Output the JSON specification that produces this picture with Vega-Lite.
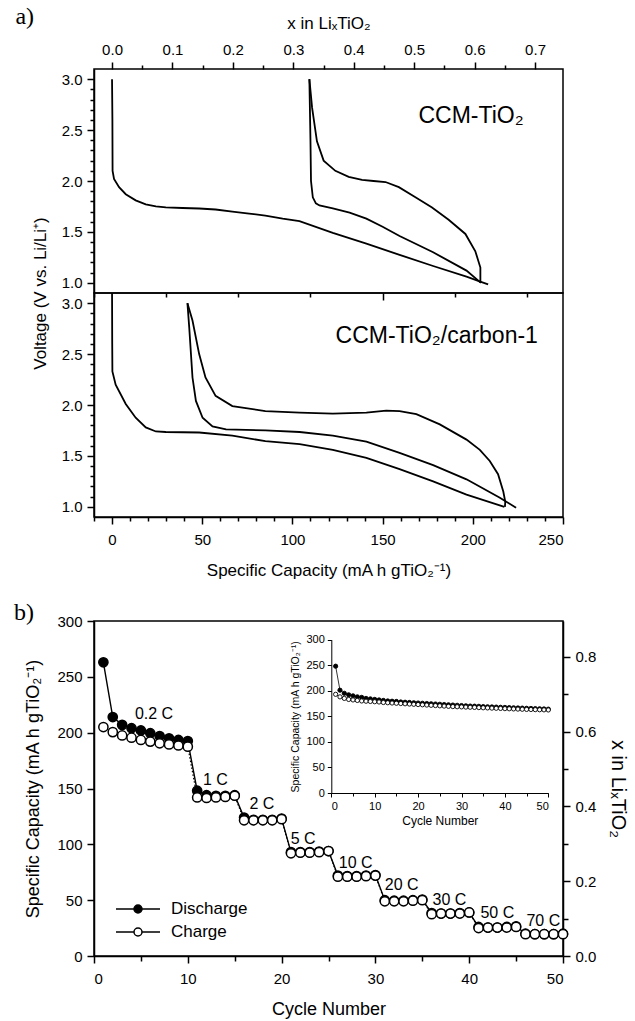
{
  "$schema": "https://vega.github.io/schema/vega-lite/v6.json",
  "padding": {"left": 13, "top": 5, "right": 2, "bottom": 2},
  "config": {
    "font": "Liberation Sans",
    "view": {"stroke": "black", "strokeWidth": 1.5},
    "axis": {"grid": false, "ticks": true, "labelOverlap": false, "domainColor": "black", "domainWidth": 1.5, "tickColor": "black", "tickWidth": 1.5, "labelColor": "black", "titleColor": "black", "labelFontSize": 15, "titleFontSize": 17, "titleFontWeight": "normal", "labelFont": "Liberation Sans", "titleFont": "Liberation Sans", "labelPadding": 5},
    "title": {"font": "Liberation Serif", "fontSize": 24, "fontWeight": "normal", "color": "black"},
    "legend": {"labelFont": "Liberation Sans", "labelFontSize": 17, "labelColor": "black"}
  },
  "resolve": {"scale": {"fill": "independent"}, "legend": {"fill": "independent"}},
  "datasets": {
    "top": [
      {"curve": "d1", "i": 1, "cap": 0, "v": 3.0},
      {"curve": "d1", "i": 2, "cap": 0.2, "v": 2.6},
      {"curve": "d1", "i": 3, "cap": 0.3, "v": 2.1},
      {"curve": "d1", "i": 4, "cap": 1.1, "v": 2.02},
      {"curve": "d1", "i": 5, "cap": 3.9, "v": 1.94},
      {"curve": "d1", "i": 6, "cap": 7.6, "v": 1.87},
      {"curve": "d1", "i": 7, "cap": 13.1, "v": 1.81},
      {"curve": "d1", "i": 8, "cap": 18.7, "v": 1.77},
      {"curve": "d1", "i": 9, "cap": 24.3, "v": 1.75},
      {"curve": "d1", "i": 10, "cap": 29.8, "v": 1.74},
      {"curve": "d1", "i": 11, "cap": 39, "v": 1.735},
      {"curve": "d1", "i": 12, "cap": 48.3, "v": 1.73},
      {"curve": "d1", "i": 13, "cap": 57.4, "v": 1.72},
      {"curve": "d1", "i": 14, "cap": 66.7, "v": 1.70},
      {"curve": "d1", "i": 15, "cap": 76, "v": 1.68},
      {"curve": "d1", "i": 16, "cap": 85, "v": 1.66},
      {"curve": "d1", "i": 17, "cap": 94.6, "v": 1.63},
      {"curve": "d1", "i": 18, "cap": 103.9, "v": 1.605},
      {"curve": "d1", "i": 19, "cap": 122.4, "v": 1.49},
      {"curve": "d1", "i": 20, "cap": 141, "v": 1.385},
      {"curve": "d1", "i": 21, "cap": 159.4, "v": 1.275},
      {"curve": "d1", "i": 22, "cap": 178, "v": 1.165},
      {"curve": "d1", "i": 23, "cap": 196.5, "v": 1.06},
      {"curve": "d1", "i": 24, "cap": 204.5, "v": 1.01},
      {"curve": "d1", "i": 25, "cap": 208.5, "v": 0.985},
      {"curve": "c1", "i": 1, "cap": 204.2, "v": 1.0},
      {"curve": "c1", "i": 2, "cap": 204.2, "v": 1.15},
      {"curve": "c1", "i": 3, "cap": 201.4, "v": 1.31},
      {"curve": "c1", "i": 4, "cap": 195.9, "v": 1.48},
      {"curve": "c1", "i": 5, "cap": 186.6, "v": 1.62},
      {"curve": "c1", "i": 6, "cap": 177.4, "v": 1.74},
      {"curve": "c1", "i": 7, "cap": 168.2, "v": 1.84},
      {"curve": "c1", "i": 8, "cap": 159, "v": 1.94},
      {"curve": "c1", "i": 9, "cap": 151.6, "v": 1.99},
      {"curve": "c1", "i": 10, "cap": 145, "v": 2.0},
      {"curve": "c1", "i": 11, "cap": 138.6, "v": 2.01},
      {"curve": "c1", "i": 12, "cap": 131.2, "v": 2.04},
      {"curve": "c1", "i": 13, "cap": 123.8, "v": 2.1},
      {"curve": "c1", "i": 14, "cap": 117.3, "v": 2.2},
      {"curve": "c1", "i": 15, "cap": 113.6, "v": 2.39},
      {"curve": "c1", "i": 16, "cap": 110.9, "v": 2.72},
      {"curve": "c1", "i": 17, "cap": 109.4, "v": 3.0},
      {"curve": "d2", "i": 1, "cap": 109.4, "v": 3.0},
      {"curve": "d2", "i": 2, "cap": 110, "v": 2.4},
      {"curve": "d2", "i": 3, "cap": 110.3, "v": 2.0},
      {"curve": "d2", "i": 4, "cap": 111.3, "v": 1.84},
      {"curve": "d2", "i": 5, "cap": 113, "v": 1.78},
      {"curve": "d2", "i": 6, "cap": 115, "v": 1.76},
      {"curve": "d2", "i": 7, "cap": 122.4, "v": 1.73},
      {"curve": "d2", "i": 8, "cap": 131.7, "v": 1.69},
      {"curve": "d2", "i": 9, "cap": 141, "v": 1.63},
      {"curve": "d2", "i": 10, "cap": 150, "v": 1.55},
      {"curve": "d2", "i": 11, "cap": 159.4, "v": 1.46},
      {"curve": "d2", "i": 12, "cap": 178, "v": 1.3},
      {"curve": "d2", "i": 13, "cap": 196.5, "v": 1.12},
      {"curve": "d2", "i": 14, "cap": 204.5, "v": 1.0}
    ],
    "bot": [
      {"curve": "d1", "i": 1, "cap": 0, "v": 3.15},
      {"curve": "d1", "i": 2, "cap": 0.1, "v": 2.6},
      {"curve": "d1", "i": 3, "cap": 0.2, "v": 2.33},
      {"curve": "d1", "i": 4, "cap": 2.0, "v": 2.2},
      {"curve": "d1", "i": 5, "cap": 7.6, "v": 2.01},
      {"curve": "d1", "i": 6, "cap": 13.1, "v": 1.875},
      {"curve": "d1", "i": 7, "cap": 18.7, "v": 1.78},
      {"curve": "d1", "i": 8, "cap": 24.3, "v": 1.74},
      {"curve": "d1", "i": 9, "cap": 29.8, "v": 1.735},
      {"curve": "d1", "i": 10, "cap": 48.3, "v": 1.73},
      {"curve": "d1", "i": 11, "cap": 66.7, "v": 1.70},
      {"curve": "d1", "i": 12, "cap": 85, "v": 1.645},
      {"curve": "d1", "i": 13, "cap": 104, "v": 1.615},
      {"curve": "d1", "i": 14, "cap": 122.4, "v": 1.56},
      {"curve": "d1", "i": 15, "cap": 141, "v": 1.48},
      {"curve": "d1", "i": 16, "cap": 159.4, "v": 1.37},
      {"curve": "d1", "i": 17, "cap": 178, "v": 1.25},
      {"curve": "d1", "i": 18, "cap": 196.5, "v": 1.12},
      {"curve": "d1", "i": 19, "cap": 217.5, "v": 1.0},
      {"curve": "c1", "i": 1, "cap": 217.8, "v": 1.0},
      {"curve": "c1", "i": 2, "cap": 218, "v": 1.05},
      {"curve": "c1", "i": 3, "cap": 216.9, "v": 1.15},
      {"curve": "c1", "i": 4, "cap": 214, "v": 1.32},
      {"curve": "c1", "i": 5, "cap": 209.4, "v": 1.45},
      {"curve": "c1", "i": 6, "cap": 203.9, "v": 1.56},
      {"curve": "c1", "i": 7, "cap": 196.5, "v": 1.66},
      {"curve": "c1", "i": 8, "cap": 181.7, "v": 1.81},
      {"curve": "c1", "i": 9, "cap": 168.7, "v": 1.91},
      {"curve": "c1", "i": 10, "cap": 159.4, "v": 1.94},
      {"curve": "c1", "i": 11, "cap": 152, "v": 1.945},
      {"curve": "c1", "i": 12, "cap": 141, "v": 1.925},
      {"curve": "c1", "i": 13, "cap": 122.4, "v": 1.915},
      {"curve": "c1", "i": 14, "cap": 104, "v": 1.925},
      {"curve": "c1", "i": 15, "cap": 85, "v": 1.94},
      {"curve": "c1", "i": 16, "cap": 66.7, "v": 1.99},
      {"curve": "c1", "i": 17, "cap": 57.4, "v": 2.09},
      {"curve": "c1", "i": 18, "cap": 51.8, "v": 2.27},
      {"curve": "c1", "i": 19, "cap": 48.3, "v": 2.5},
      {"curve": "c1", "i": 20, "cap": 44.6, "v": 2.83},
      {"curve": "c1", "i": 21, "cap": 41.8, "v": 3.0},
      {"curve": "d2", "i": 1, "cap": 41.8, "v": 3.0},
      {"curve": "d2", "i": 2, "cap": 42.8, "v": 2.76},
      {"curve": "d2", "i": 3, "cap": 44.6, "v": 2.27},
      {"curve": "d2", "i": 4, "cap": 46.5, "v": 2.04},
      {"curve": "d2", "i": 5, "cap": 50.2, "v": 1.875},
      {"curve": "d2", "i": 6, "cap": 55.7, "v": 1.79},
      {"curve": "d2", "i": 7, "cap": 63.2, "v": 1.76},
      {"curve": "d2", "i": 8, "cap": 85, "v": 1.75},
      {"curve": "d2", "i": 9, "cap": 104, "v": 1.735},
      {"curve": "d2", "i": 10, "cap": 122.4, "v": 1.70},
      {"curve": "d2", "i": 11, "cap": 141, "v": 1.64},
      {"curve": "d2", "i": 12, "cap": 159.4, "v": 1.53},
      {"curve": "d2", "i": 13, "cap": 178, "v": 1.41},
      {"curve": "d2", "i": 14, "cap": 196.5, "v": 1.27},
      {"curve": "d2", "i": 15, "cap": 215, "v": 1.09},
      {"curve": "d2", "i": 16, "cap": 224, "v": 0.99}
    ],
    "rate": [
      {"series": "Discharge", "cycle": 1, "cap": 263}, {"series": "Discharge", "cycle": 2, "cap": 214}, {"series": "Discharge", "cycle": 3, "cap": 207}, {"series": "Discharge", "cycle": 4, "cap": 204}, {"series": "Discharge", "cycle": 5, "cap": 202},
      {"series": "Discharge", "cycle": 6, "cap": 199.5}, {"series": "Discharge", "cycle": 7, "cap": 197}, {"series": "Discharge", "cycle": 8, "cap": 195}, {"series": "Discharge", "cycle": 9, "cap": 193.5}, {"series": "Discharge", "cycle": 10, "cap": 192.5},
      {"series": "Discharge", "cycle": 11, "cap": 148}, {"series": "Discharge", "cycle": 12, "cap": 144}, {"series": "Discharge", "cycle": 13, "cap": 143.5}, {"series": "Discharge", "cycle": 14, "cap": 143.5}, {"series": "Discharge", "cycle": 15, "cap": 144},
      {"series": "Discharge", "cycle": 16, "cap": 124}, {"series": "Discharge", "cycle": 17, "cap": 122}, {"series": "Discharge", "cycle": 18, "cap": 122}, {"series": "Discharge", "cycle": 19, "cap": 122}, {"series": "Discharge", "cycle": 20, "cap": 123},
      {"series": "Discharge", "cycle": 21, "cap": 93}, {"series": "Discharge", "cycle": 22, "cap": 93}, {"series": "Discharge", "cycle": 23, "cap": 93}, {"series": "Discharge", "cycle": 24, "cap": 93.5}, {"series": "Discharge", "cycle": 25, "cap": 94},
      {"series": "Discharge", "cycle": 26, "cap": 72}, {"series": "Discharge", "cycle": 27, "cap": 71.5}, {"series": "Discharge", "cycle": 28, "cap": 71.5}, {"series": "Discharge", "cycle": 29, "cap": 72}, {"series": "Discharge", "cycle": 30, "cap": 72.5},
      {"series": "Discharge", "cycle": 31, "cap": 50}, {"series": "Discharge", "cycle": 32, "cap": 49.5}, {"series": "Discharge", "cycle": 33, "cap": 49.5}, {"series": "Discharge", "cycle": 34, "cap": 50}, {"series": "Discharge", "cycle": 35, "cap": 50.5},
      {"series": "Discharge", "cycle": 36, "cap": 38.5}, {"series": "Discharge", "cycle": 37, "cap": 38}, {"series": "Discharge", "cycle": 38, "cap": 38}, {"series": "Discharge", "cycle": 39, "cap": 38.5}, {"series": "Discharge", "cycle": 40, "cap": 39},
      {"series": "Discharge", "cycle": 41, "cap": 26}, {"series": "Discharge", "cycle": 42, "cap": 25.5}, {"series": "Discharge", "cycle": 43, "cap": 25.5}, {"series": "Discharge", "cycle": 44, "cap": 26}, {"series": "Discharge", "cycle": 45, "cap": 26.5},
      {"series": "Discharge", "cycle": 46, "cap": 20}, {"series": "Discharge", "cycle": 47, "cap": 19.5}, {"series": "Discharge", "cycle": 48, "cap": 19.5}, {"series": "Discharge", "cycle": 49, "cap": 19.5}, {"series": "Discharge", "cycle": 50, "cap": 20},
      {"series": "Charge", "cycle": 1, "cap": 205}, {"series": "Charge", "cycle": 2, "cap": 200.5}, {"series": "Charge", "cycle": 3, "cap": 197.5}, {"series": "Charge", "cycle": 4, "cap": 195.5}, {"series": "Charge", "cycle": 5, "cap": 193.5},
      {"series": "Charge", "cycle": 6, "cap": 192}, {"series": "Charge", "cycle": 7, "cap": 190.5}, {"series": "Charge", "cycle": 8, "cap": 189.5}, {"series": "Charge", "cycle": 9, "cap": 188.5}, {"series": "Charge", "cycle": 10, "cap": 187.5},
      {"series": "Charge", "cycle": 11, "cap": 142}, {"series": "Charge", "cycle": 12, "cap": 141.5}, {"series": "Charge", "cycle": 13, "cap": 142}, {"series": "Charge", "cycle": 14, "cap": 142.5}, {"series": "Charge", "cycle": 15, "cap": 143.5},
      {"series": "Charge", "cycle": 16, "cap": 121.5}, {"series": "Charge", "cycle": 17, "cap": 121.5}, {"series": "Charge", "cycle": 18, "cap": 121.5}, {"series": "Charge", "cycle": 19, "cap": 121.5}, {"series": "Charge", "cycle": 20, "cap": 122.5},
      {"series": "Charge", "cycle": 21, "cap": 92}, {"series": "Charge", "cycle": 22, "cap": 92.5}, {"series": "Charge", "cycle": 23, "cap": 92.5}, {"series": "Charge", "cycle": 24, "cap": 93}, {"series": "Charge", "cycle": 25, "cap": 94},
      {"series": "Charge", "cycle": 26, "cap": 71}, {"series": "Charge", "cycle": 27, "cap": 71}, {"series": "Charge", "cycle": 28, "cap": 71}, {"series": "Charge", "cycle": 29, "cap": 71.5}, {"series": "Charge", "cycle": 30, "cap": 72},
      {"series": "Charge", "cycle": 31, "cap": 49}, {"series": "Charge", "cycle": 32, "cap": 49}, {"series": "Charge", "cycle": 33, "cap": 49}, {"series": "Charge", "cycle": 34, "cap": 49.5}, {"series": "Charge", "cycle": 35, "cap": 50},
      {"series": "Charge", "cycle": 36, "cap": 37.5}, {"series": "Charge", "cycle": 37, "cap": 38}, {"series": "Charge", "cycle": 38, "cap": 38}, {"series": "Charge", "cycle": 39, "cap": 38}, {"series": "Charge", "cycle": 40, "cap": 39},
      {"series": "Charge", "cycle": 41, "cap": 25}, {"series": "Charge", "cycle": 42, "cap": 25.5}, {"series": "Charge", "cycle": 43, "cap": 25.5}, {"series": "Charge", "cycle": 44, "cap": 25.5}, {"series": "Charge", "cycle": 45, "cap": 26},
      {"series": "Charge", "cycle": 46, "cap": 19.5}, {"series": "Charge", "cycle": 47, "cap": 19.5}, {"series": "Charge", "cycle": 48, "cap": 19.5}, {"series": "Charge", "cycle": 49, "cap": 19.5}, {"series": "Charge", "cycle": 50, "cap": 19.5}
    ],
    "cyc": [
      {"series": "Discharge", "cycle": 1, "cap": 248}, {"series": "Discharge", "cycle": 2, "cap": 201}, {"series": "Discharge", "cycle": 3, "cap": 195}, {"series": "Discharge", "cycle": 4, "cap": 192}, {"series": "Discharge", "cycle": 5, "cap": 190},
      {"series": "Discharge", "cycle": 6, "cap": 188}, {"series": "Discharge", "cycle": 7, "cap": 187}, {"series": "Discharge", "cycle": 8, "cap": 185}, {"series": "Discharge", "cycle": 9, "cap": 184}, {"series": "Discharge", "cycle": 10, "cap": 183},
      {"series": "Discharge", "cycle": 11, "cap": 182}, {"series": "Discharge", "cycle": 12, "cap": 181}, {"series": "Discharge", "cycle": 13, "cap": 180}, {"series": "Discharge", "cycle": 14, "cap": 179.5}, {"series": "Discharge", "cycle": 15, "cap": 179},
      {"series": "Discharge", "cycle": 16, "cap": 178}, {"series": "Discharge", "cycle": 17, "cap": 177.5}, {"series": "Discharge", "cycle": 18, "cap": 177}, {"series": "Discharge", "cycle": 19, "cap": 176.5}, {"series": "Discharge", "cycle": 20, "cap": 176},
      {"series": "Discharge", "cycle": 21, "cap": 175.5}, {"series": "Discharge", "cycle": 22, "cap": 175}, {"series": "Discharge", "cycle": 23, "cap": 174.5}, {"series": "Discharge", "cycle": 24, "cap": 174}, {"series": "Discharge", "cycle": 25, "cap": 173.5},
      {"series": "Discharge", "cycle": 26, "cap": 173}, {"series": "Discharge", "cycle": 27, "cap": 172.5}, {"series": "Discharge", "cycle": 28, "cap": 172}, {"series": "Discharge", "cycle": 29, "cap": 171.5}, {"series": "Discharge", "cycle": 30, "cap": 171},
      {"series": "Discharge", "cycle": 31, "cap": 170.5}, {"series": "Discharge", "cycle": 32, "cap": 170}, {"series": "Discharge", "cycle": 33, "cap": 169.8}, {"series": "Discharge", "cycle": 34, "cap": 169.5}, {"series": "Discharge", "cycle": 35, "cap": 169},
      {"series": "Discharge", "cycle": 36, "cap": 168.6}, {"series": "Discharge", "cycle": 37, "cap": 168.3}, {"series": "Discharge", "cycle": 38, "cap": 168}, {"series": "Discharge", "cycle": 39, "cap": 167.6}, {"series": "Discharge", "cycle": 40, "cap": 167.3},
      {"series": "Discharge", "cycle": 41, "cap": 167}, {"series": "Discharge", "cycle": 42, "cap": 166.6}, {"series": "Discharge", "cycle": 43, "cap": 166.3}, {"series": "Discharge", "cycle": 44, "cap": 166}, {"series": "Discharge", "cycle": 45, "cap": 165.6},
      {"series": "Discharge", "cycle": 46, "cap": 165.3}, {"series": "Discharge", "cycle": 47, "cap": 165}, {"series": "Discharge", "cycle": 48, "cap": 164.7}, {"series": "Discharge", "cycle": 49, "cap": 164.4}, {"series": "Discharge", "cycle": 50, "cap": 164},
      {"series": "Charge", "cycle": 1, "cap": 193}, {"series": "Charge", "cycle": 2, "cap": 188}, {"series": "Charge", "cycle": 3, "cap": 185}, {"series": "Charge", "cycle": 4, "cap": 183}, {"series": "Charge", "cycle": 5, "cap": 182},
      {"series": "Charge", "cycle": 6, "cap": 181}, {"series": "Charge", "cycle": 7, "cap": 180}, {"series": "Charge", "cycle": 8, "cap": 179.5}, {"series": "Charge", "cycle": 9, "cap": 179}, {"series": "Charge", "cycle": 10, "cap": 178.5},
      {"series": "Charge", "cycle": 11, "cap": 178}, {"series": "Charge", "cycle": 12, "cap": 177}, {"series": "Charge", "cycle": 13, "cap": 176.5}, {"series": "Charge", "cycle": 14, "cap": 176}, {"series": "Charge", "cycle": 15, "cap": 175.5},
      {"series": "Charge", "cycle": 16, "cap": 175}, {"series": "Charge", "cycle": 17, "cap": 174.5}, {"series": "Charge", "cycle": 18, "cap": 174}, {"series": "Charge", "cycle": 19, "cap": 173.5}, {"series": "Charge", "cycle": 20, "cap": 173},
      {"series": "Charge", "cycle": 21, "cap": 172.5}, {"series": "Charge", "cycle": 22, "cap": 172}, {"series": "Charge", "cycle": 23, "cap": 171.5}, {"series": "Charge", "cycle": 24, "cap": 171}, {"series": "Charge", "cycle": 25, "cap": 170.5},
      {"series": "Charge", "cycle": 26, "cap": 170}, {"series": "Charge", "cycle": 27, "cap": 169.5}, {"series": "Charge", "cycle": 28, "cap": 169}, {"series": "Charge", "cycle": 29, "cap": 168.7}, {"series": "Charge", "cycle": 30, "cap": 168.4},
      {"series": "Charge", "cycle": 31, "cap": 168}, {"series": "Charge", "cycle": 32, "cap": 167.7}, {"series": "Charge", "cycle": 33, "cap": 167.4}, {"series": "Charge", "cycle": 34, "cap": 167}, {"series": "Charge", "cycle": 35, "cap": 166.7},
      {"series": "Charge", "cycle": 36, "cap": 166.4}, {"series": "Charge", "cycle": 37, "cap": 166}, {"series": "Charge", "cycle": 38, "cap": 165.7}, {"series": "Charge", "cycle": 39, "cap": 165.4}, {"series": "Charge", "cycle": 40, "cap": 165},
      {"series": "Charge", "cycle": 41, "cap": 164.7}, {"series": "Charge", "cycle": 42, "cap": 164.4}, {"series": "Charge", "cycle": 43, "cap": 164.1}, {"series": "Charge", "cycle": 44, "cap": 163.8}, {"series": "Charge", "cycle": 45, "cap": 163.5},
      {"series": "Charge", "cycle": 46, "cap": 163.3}, {"series": "Charge", "cycle": 47, "cap": 163}, {"series": "Charge", "cycle": 48, "cap": 162.8}, {"series": "Charge", "cycle": 49, "cap": 162.6}, {"series": "Charge", "cycle": 50, "cap": 162.4}
    ],
    "rates": [
      {"label": "0.2 C", "cycle": 6.4, "cap": 217},
      {"label": "1 C", "cycle": 12.95, "cap": 157.8},
      {"label": "2 C", "cycle": 17.9, "cap": 135.7},
      {"label": "5 C", "cycle": 22.3, "cap": 105},
      {"label": "10 C", "cycle": 27.9, "cap": 83.3},
      {"label": "20 C", "cycle": 32.8, "cap": 64},
      {"label": "30 C", "cycle": 37.9, "cap": 50},
      {"label": "50 C", "cycle": 43.0, "cap": 38.7},
      {"label": "70 C", "cycle": 47.9, "cap": 31.5}
    ]
  },
  "spacing": 21,
  "vconcat": [
    {
      "title": {"text": "a)", "anchor": "start", "frame": "bounds", "dy": 16, "dx": -15, "offset": 0},
      "spacing": 0,
      "bounds": "flush",
      "vconcat": [
        {
          "width": 469,
          "height": 224,
          "layer": [
            {
              "layer": [
                {
                  "data": {"name": "top"},
                  "mark": {"type": "line", "color": "black", "strokeWidth": 1.8, "clip": true},
                  "encoding": {
                    "x": {"field": "cap", "type": "quantitative", "scale": {"domain": [-10, 250], "nice": false, "zero": false},
                      "axis": {"orient": "bottom", "values": [-10, 0, 10, 20, 30, 40, 50, 60, 70, 80, 90, 100, 110, 120, 130, 140, 150, 160, 170, 180, 190, 200, 210, 220, 230, 240, 250], "labels": false, "title": null, "domain": false,
                        "tickSize": {"condition": {"test": "datum.value % 50 === 0", "value": 7}, "value": 4}}},
                    "y": {"field": "v", "type": "quantitative", "scale": {"domain": [0.9, 3.1], "nice": false, "zero": false},
                      "axis": {"orient": "left", "values": [1.0, 1.5, 2.0, 2.5, 3.0], "format": ".1f", "tickSize": 7,
                        "title": "Voltage (V vs. Li/Li⁺)", "titleY": 224, "titlePadding": 12}},
                    "detail": {"field": "curve"},
                    "order": {"field": "i", "type": "quantitative"}
                  }
                },
                {
                  "data": {"values": [{"label": "CCM-TiO₂", "cap": 199, "v": 2.64}]},
                  "mark": {"type": "text", "fontSize": 23, "align": "center", "baseline": "middle", "color": "black"},
                  "encoding": {
                    "x": {"field": "cap", "type": "quantitative"},
                    "y": {"field": "v", "type": "quantitative"},
                    "text": {"field": "label"}
                  }
                }
              ]
            },
            {
              "data": {"values": [{"k": 0}]},
              "mark": {"type": "point", "opacity": 0},
              "encoding": {
                "x": {"datum": 0, "type": "quantitative", "scale": {"domain": [-0.02985, 0.74627], "nice": false, "zero": false},
                  "axis": {"orient": "top", "values": [0, 0.05, 0.1, 0.15, 0.2, 0.25, 0.3, 0.35, 0.4, 0.45, 0.5, 0.55, 0.6, 0.65, 0.7],
                    "labelExpr": "round(datum.value*100) % 10 === 0 ? format(datum.value, '.1f') : ''",
                    "tickSize": {"condition": {"test": "round(datum.value*100) % 10 === 0", "value": 7}, "value": 4},
                    "title": "x in LiₓTiO₂", "titlePadding": 10, "domain": false}},
                "y": {"datum": 2, "type": "quantitative", "scale": {"domain": [0.9, 3.1], "nice": false, "zero": false},
                  "axis": {"orient": "left", "values": [1.1, 1.2, 1.3, 1.4, 1.6, 1.7, 1.8, 1.9, 2.1, 2.2, 2.3, 2.4, 2.6, 2.7, 2.8, 2.9], "labels": false, "tickSize": 4, "domain": false, "title": null}}
              }
            }
          ],
          "resolve": {"scale": {"x": "independent", "y": "independent"}, "axis": {"x": "independent", "y": "independent"}}
        },
        {
          "width": 469,
          "height": 224,
          "layer": [
            {
              "layer": [
                {
                  "data": {"name": "bot"},
                  "mark": {"type": "line", "color": "black", "strokeWidth": 1.8, "clip": true},
                  "encoding": {
                    "x": {"field": "cap", "type": "quantitative", "scale": {"domain": [-10, 250], "nice": false, "zero": false},
                      "axis": {"orient": "bottom", "values": [0, 50, 100, 150, 200, 250], "tickSize": 7,
                        "labelPadding": 8,
                        "title": "Specific Capacity (mA h gTiO₂⁻¹)", "titlePadding": 15}},
                    "y": {"field": "v", "type": "quantitative", "scale": {"domain": [0.9, 3.1], "nice": false, "zero": false},
                      "axis": {"orient": "left", "values": [1.0, 1.5, 2.0, 2.5, 3.0], "format": ".1f", "tickSize": 7, "title": null}},
                    "detail": {"field": "curve"},
                    "order": {"field": "i", "type": "quantitative"}
                  }
                },
                {
                  "data": {"values": [{"label": "CCM-TiO₂/carbon-1", "cap": 180, "v": 2.68}]},
                  "mark": {"type": "text", "fontSize": 23, "align": "center", "baseline": "middle", "color": "black"},
                  "encoding": {
                    "x": {"field": "cap", "type": "quantitative"},
                    "y": {"field": "v", "type": "quantitative"},
                    "text": {"field": "label"}
                  }
                }
              ]
            },
            {
              "data": {"values": [{"k": 0}]},
              "mark": {"type": "point", "opacity": 0},
              "encoding": {
                "x": {"datum": 100, "type": "quantitative", "scale": {"domain": [-10, 250], "nice": false, "zero": false},
                  "axis": {"orient": "bottom", "values": [-10, 10, 20, 30, 40, 60, 70, 80, 90, 110, 120, 130, 140, 160, 170, 180, 190, 210, 220, 230, 240], "labels": false, "tickSize": 4, "domain": false, "title": null}},
                "y": {"datum": 2, "type": "quantitative", "scale": {"domain": [0.9, 3.1], "nice": false, "zero": false},
                  "axis": {"orient": "left", "values": [1.1, 1.2, 1.3, 1.4, 1.6, 1.7, 1.8, 1.9, 2.1, 2.2, 2.3, 2.4, 2.6, 2.7, 2.8, 2.9], "labels": false, "tickSize": 4, "domain": false, "title": null}}
              }
            }
          ],
          "resolve": {"scale": {"x": "independent", "y": "independent"}, "axis": {"x": "independent", "y": "independent"}}
        }
      ]
    },
    {
      "title": {"text": "b)", "anchor": "start", "frame": "bounds", "dy": 11, "dx": -11, "offset": 0},
      "width": 469,
      "height": 335,
      "layer": [
        {
          "layer": [
            {
              "data": {"name": "rate"},
              "transform": [{"filter": "datum.series === 'Discharge'"}],
              "mark": {"type": "line", "color": "black", "strokeWidth": 1.4},
              "encoding": {
                "x": {"field": "cycle", "type": "quantitative", "scale": {"domain": [0, 50], "nice": false},
                  "axis": {"values": [0, 5, 10, 15, 20, 25, 30, 35, 40, 45, 50],
                    "labelExpr": "datum.value % 10 === 0 ? datum.label : ''",
                    "tickSize": {"condition": {"test": "datum.value % 10 === 0", "value": 7}, "value": 5},
                    "labelPadding": 8,
                    "title": "Cycle Number", "titleFontSize": 18, "titlePadding": 14}},
                "y": {"field": "cap", "type": "quantitative", "scale": {"domain": [0, 300], "nice": false},
                  "axis": {"values": [0, 50, 100, 150, 200, 250, 300], "tickSize": 7,
                    "title": "Specific Capacity (mA h gTiO₂⁻¹)", "titleFontSize": 18, "titlePadding": 14}}
              }
            },
            {
              "data": {"name": "rate"},
              "transform": [{"filter": "datum.series === 'Charge'"}],
              "mark": {"type": "line", "color": "black", "strokeWidth": 1.2, "strokeDash": [1.5, 2]},
              "encoding": {
                "x": {"field": "cycle", "type": "quantitative"},
                "y": {"field": "cap", "type": "quantitative"}
              }
            },
            {
              "data": {"name": "rate"},
              "mark": {"type": "point", "shape": "circle", "filled": true, "size": 85, "stroke": "black", "strokeWidth": 1.5, "opacity": 1},
              "encoding": {
                "x": {"field": "cycle", "type": "quantitative"},
                "y": {"field": "cap", "type": "quantitative"},
                "fill": {"field": "series", "type": "nominal", "scale": {"domain": ["Discharge", "Charge"], "range": ["black", "white"]},
                  "legend": {"title": null, "orient": "bottom-left", "offset": 16, "symbolType": "M-0.5,0H1.3M2.1,0H3.9M1.3,0A0.4,0.4,0,1,1,2.1,0A0.4,0.4,0,1,1,1.3,0Z", "symbolSize": 400, "symbolStrokeColor": "black", "symbolStrokeWidth": 1.5, "rowPadding": 4, "labelOffset": 39, "symbolOpacity": 1}}
              }
            },
            {
              "data": {"name": "rates"},
              "mark": {"type": "text", "fontSize": 16, "align": "center", "baseline": "middle", "color": "black"},
              "encoding": {
                "x": {"field": "cycle", "type": "quantitative"},
                "y": {"field": "cap", "type": "quantitative"},
                "text": {"field": "label"}
              }
            }
          ]
        },
        {
          "data": {"values": [{"k": 0}]},
          "mark": {"type": "rule", "opacity": 0},
          "encoding": {
            "y": {"datum": 0, "type": "quantitative", "scale": {"domain": [0, 0.8955], "nice": false, "zero": false},
              "axis": {"orient": "right", "values": [0, 0.1, 0.2, 0.3, 0.4, 0.5, 0.6, 0.7, 0.8],
                "labelExpr": "round(datum.value*10) % 2 === 0 ? format(datum.value, '.1f') : ''",
                "tickSize": {"condition": {"test": "round(datum.value*10) % 2 === 0", "value": 7}, "value": 5},
                "title": "x in LiₓTiO₂", "titleFontSize": 20, "titlePadding": 12}}
          }
        },
        {
          "layer": [
            {
              "data": {"name": "cyc"},
              "mark": {"type": "line", "color": "black", "strokeWidth": 0.8},
              "encoding": {
                "x": {"field": "cycle", "type": "quantitative", "scale": {"domain": [0, 50], "nice": false, "range": [237.3, 454.3]},
                  "axis": {"orient": "bottom", "offset": -163, "values": [0, 5, 10, 15, 20, 25, 30, 35, 40, 45, 50],
                    "labelExpr": "datum.value % 10 === 0 ? datum.label : ''",
                    "tickSize": {"condition": {"test": "datum.value % 10 === 0", "value": 4}, "value": 3},
                    "labelFontSize": 11, "labelPadding": 3, "domainWidth": 1, "tickWidth": 1,
                    "title": "Cycle Number", "titleFontSize": 12, "titlePadding": 4}},
                "y": {"field": "cap", "type": "quantitative", "scale": {"domain": [0, 300], "nice": false, "range": [172, 18.6]},
                  "axis": {"orient": "left", "offset": -237.3, "values": [0, 50, 100, 150, 200, 250, 300], "tickSize": 4,
                    "labelFontSize": 11, "labelPadding": 3, "domainWidth": 1, "tickWidth": 1,
                    "title": "Specific Capacity (mA h gTiO₂⁻¹)", "titleFontSize": 10.5, "titlePadding": 5}},
                "detail": {"field": "series"}
              }
            },
            {
              "data": {"name": "cyc"},
              "mark": {"type": "point", "shape": "circle", "filled": true, "size": 18, "stroke": "black", "strokeWidth": 0.9, "opacity": 1},
              "encoding": {
                "x": {"field": "cycle", "type": "quantitative"},
                "y": {"field": "cap", "type": "quantitative"},
                "fill": {"field": "series", "type": "nominal"}
              }
            }
          ]
        }
      ],
      "resolve": {"scale": {"x": "independent", "y": "independent"}, "axis": {"x": "independent", "y": "independent"}}
    }
  ]
}
